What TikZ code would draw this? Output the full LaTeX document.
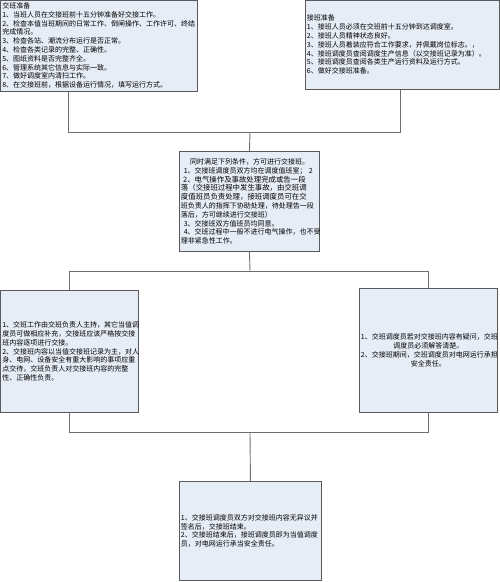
\documentclass[tikz,border=0pt]{standalone}
\usepackage{fontspec}
\newfontfamily\cjk{Noto Sans CJK SC}
\usepackage{xcolor}
\usepackage{tikz}
\usetikzlibrary{positioning}

\definecolor{boxfill}{HTML}{E7EDF7}
\definecolor{boxline}{HTML}{5A5A5A}
\definecolor{linkline}{HTML}{6E6E6E}

\newcommand{\bigline}{\fontsize{7.4}{8.9}\selectfont}

\begin{document}
\begin{tikzpicture}[x=1pt, y=-1pt,
		stagebox/.style={draw=boxline, fill=boxfill, line width=0.9pt, anchor=north west,
			inner sep=1.5pt, align=left, font=\cjk\fontsize{7}{8.8}\selectfont},
		link/.style={draw=linkline, line width=0.9pt}]
		\useasboundingbox (0,0) rectangle (500,582);

		% preparation boxes
		\node[stagebox, text width=194pt, minimum height=91pt] (jbzb) at (0.4,-0.4) {%
			交班准备\\
			1、当班人员在交接班前十五分钟准备好交接工作。\\
			2、检查本值当班期间的日常工作、倒闸操作、工作许可、终结\\
			完成情况。\\
			3、检查各站、潮流分布运行是否正常。\\
			4、检查各类记录的完整、正确性。\\
			5、图纸资料是否完整齐全。\\
			6、管理系统其它信息与实际一致。\\
			7、做好调度室内清扫工作。\\
			8、在交接班前，根据设备运行情况，填写运行方式。};
		\node[stagebox, text width=191pt, minimum height=89pt] (jiebzb) at (305,-0.4) {%
			接班准备\\
			1、接班人员必须在交班前十五分钟到达调度室。\\
			2、接班人员精神状态良好。\\
			3、接班人员着装应符合工作要求，并佩戴岗位标志。，\\
			4、接班调度员查阅调度生产信息（以交接班记录为准）。\\
			5、接班调度员查阅各类生产运行资料及运行方式。\\
			6、做好交接班准备。};

		% conditions
		\node[stagebox, text width=137pt, minimum height=100pt] (cond) at (179,151) {%
			\hspace*{1.3em}同时满足下列条件，方可进行交接班。\\
			\hspace*{0.4em}1、交接班调度员双方均在调度值班室； 2\\
			{\bigline\hspace*{0.3em}2、电气操作及事故处理完成或告一段}\\
			{\bigline 落（交接班过程中发生事故，由交班调}\\
			{\bigline 度值班员负责处理，接班调度员可在交}\\
			班负责人的指挥下协助处理，待处理告一段\\
			落后，方可继续进行交接班）\\
			\hspace*{0.4em}3、交接班双方值班员均同意。\\
			\hspace*{0.4em}4、交班过程中一般不进行电气操作，也不受\\
			理非紧急性工作。};

		% handover duties
		\node[stagebox, text width=135pt, minimum height=122pt] (duty) at (0.4,290) {%
			1、交班工作由交班负责人主持，其它当值调\\
			度员可做相应补充，交接班应该严格按交接\\
			班内容逐项进行交接。\\
			2、交接班内容以当值交接班记录为主，对人\\
			身、电网、设备安全有重大影响的事项应重\\
			点交待，交班负责人对交接班内容的完整\\
			性、正确性负责。};
		\node[stagebox, align=center, text width=135pt, minimum height=124pt] (resp) at (359,288) {%
			1、交班调度员若对交接班内容有疑问，交班\\
			调度员必须解答清楚。\\
			2、交接班期间，交班调度员对电网运行承担\\
			安全责任。};

		% end of handover
		\node[stagebox, text width=139pt, minimum height=99pt] (done) at (179,481) {%
			1、交接班调度员双方对交接班内容无异议并\\
			签名后，交接班结束。\\
			2、交接班结束后，接班调度员即为当值调度\\
			员，对电网运行承当安全责任。};

		% joints
		\coordinate (topjoin) at (250,132);
		\coordinate (midjoin) at (250,271);
		\coordinate (botjoin) at (250,432);

		\draw[link] ([xshift=68pt]jbzb.south west) |- (topjoin);
		\draw[link] ([xshift=95pt]jiebzb.south west) |- (topjoin);
		\draw[link] (topjoin) -- (cond.north);

		\draw[link] (cond.south) -- (midjoin);
		\draw[link] (midjoin) -| (duty.north);
		\draw[link] (midjoin) -| (resp.north);

		\draw[link] (duty.south) |- (botjoin);
		\draw[link] (resp.south) |- (botjoin);
		\draw[link] (botjoin) -- (done.north);
	\end{tikzpicture}
\end{document}
